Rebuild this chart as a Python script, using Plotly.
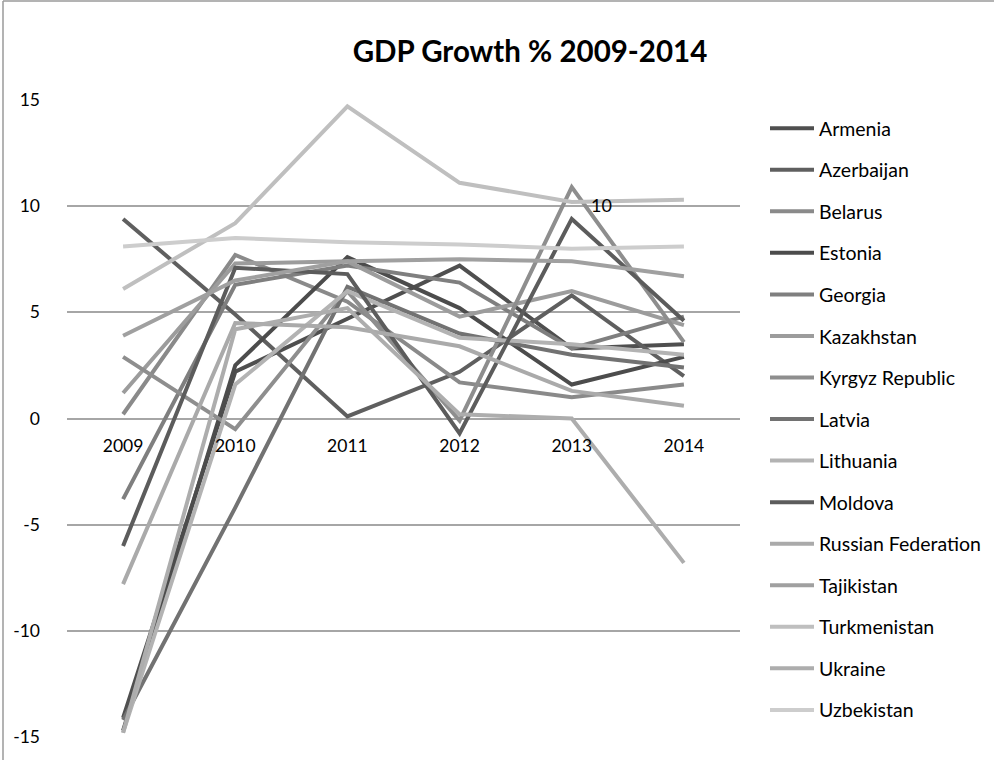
import plotly.graph_objects as go

# Annual GDP growth (%) by country
years = ["2009", "2010", "2011", "2012", "2013", "2014"]

armenia = [-14.1, 2.2, 4.7, 7.2, 3.3, 3.5]
azerbaijan = [9.4, 4.9, 0.1, 2.2, 5.8, 2.0]
belarus = [0.2, 7.7, 5.5, 1.7, 1.0, 1.6]
estonia = [-14.7, 2.5, 7.6, 5.2, 1.6, 2.9]
georgia = [-3.8, 6.3, 7.2, 6.4, 3.3, 4.8]
kazakhstan = [1.2, 7.3, 7.4, 4.8, 6.0, 4.4]
kyrgyz = [2.9, -0.5, 6.0, -0.1, 10.9, 3.6]
latvia = [-14.2, -4.2, 6.2, 4.0, 3.0, 2.4]
lithuania = [-14.8, 1.6, 6.0, 3.8, 3.5, 3.0]
moldova = [-6.0, 7.1, 6.8, -0.7, 9.4, 4.6]
russia = [-7.8, 4.5, 4.3, 3.4, 1.3, 0.6]
tajikistan = [3.9, 6.5, 7.4, 7.5, 7.4, 6.7]
turkmenistan = [6.1, 9.2, 14.7, 11.1, 10.2, 10.3]
ukraine = [-14.8, 4.2, 5.2, 0.2, 0.0, -6.8]
uzbekistan = [8.1, 8.5, 8.3, 8.2, 8.0, 8.1]

y_ticks = [-15, -10, -5, 0, 5, 10, 15]
y_tick_labels = ["-15", "-10", "-5", "0", "5", "10", "15"]

series = [
    ("Armenia", armenia, "#4f4f4f"),
    ("Azerbaijan", azerbaijan, "#5f5f5f"),
    ("Belarus", belarus, "#8a8a8a"),
    ("Estonia", estonia, "#4c4c4c"),
    ("Georgia", georgia, "#7f7f7f"),
    ("Kazakhstan", kazakhstan, "#9c9c9c"),
    ("Kyrgyz Republic", kyrgyz, "#8e8e8e"),
    ("Latvia", latvia, "#727272"),
    ("Lithuania", lithuania, "#b3b3b3"),
    ("Moldova", moldova, "#5c5c5c"),
    ("Russian Federation", russia, "#aaaaaa"),
    ("Tajikistan", tajikistan, "#a0a0a0"),
    ("Turkmenistan", turkmenistan, "#bfbfbf"),
    ("Ukraine", ukraine, "#adadad"),
    ("Uzbekistan", uzbekistan, "#cdcdcd"),
]

FONT = "Lato, 'Open Sans', sans-serif"
W, H = 994, 760
ML, MR, MT, MB = 67, 254, 100, 23

fig = go.Figure()
for i, (name, vals, color) in enumerate(series):
    fig.add_trace(go.Scatter(
        x=years, y=vals, name=name, mode="lines",
        line=dict(color=color, width=4),
        legendgroup=f"g{i}",
    ))

# data label on Turkmenistan 2013
fig.add_annotation(
    xref="x", yref="y", x=4, y=turkmenistan[4], text=f"{turkmenistan[4]:.0f}",
    showarrow=False, xanchor="left", yanchor="middle",
    xshift=17, yshift=-3, font=dict(family=FONT, size=18, color="#000"),
)

# chart-area border (top and left edges)
pw = W - ML - MR
ph = H - MT - MB
def px_x(px):
    return (px - ML) / pw
def px_y(py):
    return (H - MB - py) / ph

fig.add_shape(type="line", xref="paper", yref="paper",
              x0=px_x(3), x1=px_x(994), y0=px_y(1), y1=px_y(1),
              line=dict(color="#9a9a9a", width=1.5))
fig.add_shape(type="line", xref="paper", yref="paper",
              x0=px_x(3), x1=px_x(3), y0=px_y(1), y1=px_y(760),
              line=dict(color="#9a9a9a", width=1.5))

fig.update_layout(
    width=W, height=H,
    margin=dict(l=ML, r=MR, t=MT, b=MB, autoexpand=False),
    paper_bgcolor="white", plot_bgcolor="white",
    font=dict(family=FONT, size=20, color="#000"),
    title=dict(text="<b>GDP Growth % 2009-2014</b>", x=530 / W, xanchor="center",
               y=1 - 52 / H, yanchor="middle", font=dict(family=FONT, size=29.5, color="#000")),
    xaxis=dict(type="category", range=[-0.5, 5.5], anchor="free", position=0.5,
               showgrid=False, showline=False, zeroline=False, ticks="",
               ticklabelstandoff=15, tickfont=dict(family=FONT, size=17.5, color="#000")),
    yaxis=dict(range=[-15, 15], tickvals=y_ticks, ticktext=y_tick_labels,
               showgrid=True, gridcolor="#a6a6a6",
               gridwidth=1.6, zeroline=False, showline=False, ticks="",
               ticklabelstandoff=26, tickfont=dict(family=FONT, size=17.5, color="#000")),
    legend=dict(x=px_x(765), y=px_y(109), xanchor="left", yanchor="top",
                font=dict(family=FONT, size=19.5, color="#000"),
                tracegroupgap=13.2, itemwidth=44, bgcolor="rgba(0,0,0,0)"),
    showlegend=True,
)

fig.write_html("out.html")
